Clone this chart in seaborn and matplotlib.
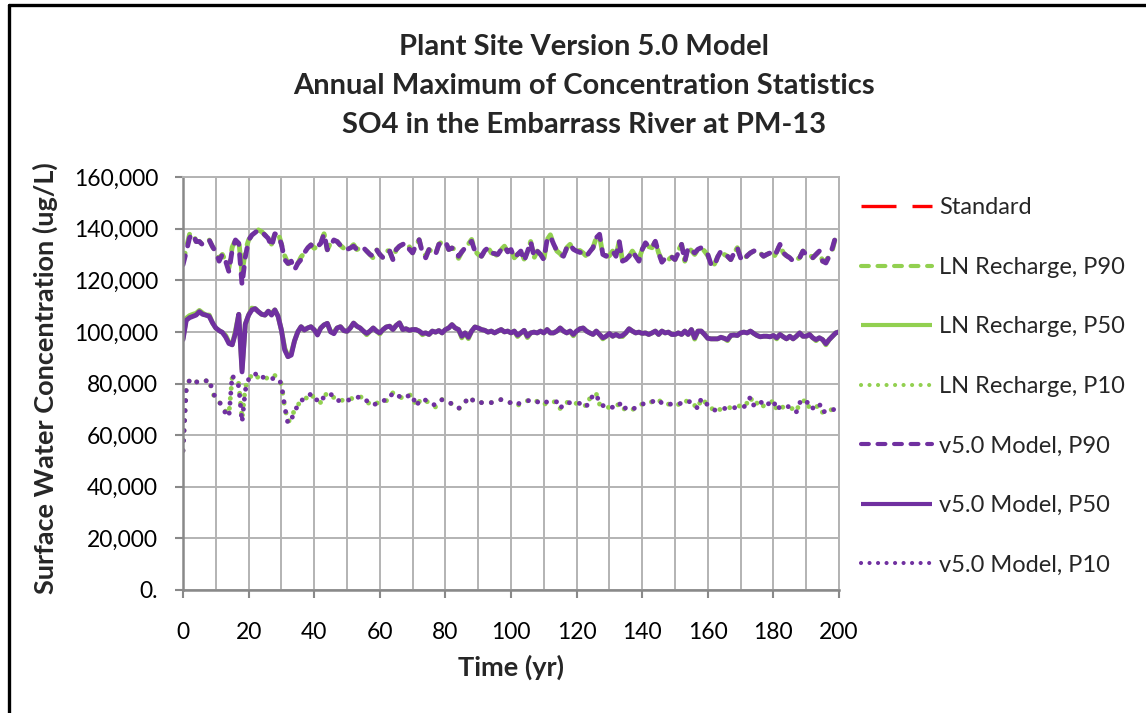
import numpy as np
import pandas as pd
import matplotlib
matplotlib.use("Agg")
import matplotlib.pyplot as plt
import seaborn as sns
from matplotlib.lines import Line2D
from matplotlib.ticker import FixedLocator, MultipleLocator

# ---------------- data ----------------
years = list(range(0, 201))

standard = [250000] * 201  # standard lies above the plotted range

v5_p90 = [
    126000, 131000, 136500, 138000, 135000, 135000, 133700, 134500, 135600, 133000,
    131000, 127400, 130000, 127400, 123300, 131800, 135600, 134300, 118200, 129000,
    135600, 137500, 138500, 139500, 138800, 137500, 136200, 133000, 138000, 137500,
    134000, 128000, 126500, 127400, 124000, 126500, 128000, 130600, 132500, 133700,
    132400, 133000, 134300, 138000, 131800, 133500, 135600, 135000, 133500, 132400,
    131900, 132500, 133200, 131900, 132500, 132600, 131300, 130000, 129300, 131900,
    130000, 128700, 130600, 131300, 128000, 131900, 133200, 133900, 134500, 132000,
    130600, 133500, 135700, 130600, 128700, 131900, 131000, 130000, 133900, 134500,
    135100, 131900, 132500, 131900, 129300, 131000, 132600, 134000, 135100, 131300,
    130000, 129300, 131500, 132600, 130600, 130300, 130000, 131900, 133200, 131000,
    131900, 128700, 130000, 131300, 127400, 131000, 135000, 129300, 131300, 130000,
    128000, 135700, 137000, 134000, 131300, 130300, 129300, 132600, 133900, 132000,
    131300, 130800, 130600, 129300, 131000, 132600, 136500, 137800, 130000, 129300,
    130300, 131300, 129300, 135100, 127400, 128000, 129300, 131300, 129300, 127400,
    131900, 134500, 133000, 132600, 135100, 130600, 127000, 128500, 128000, 129000,
    128000, 130600, 133900, 127400, 132600, 131500, 130600, 132000, 132600, 131300,
    130000, 126100, 125500, 129000, 131300, 130000, 129300, 128000, 130500, 132600,
    128700, 127400, 129500, 130600, 131300, 131900, 130500, 129300, 130000, 130600,
    129300, 131000, 133900, 130600, 129500, 128700, 127400, 128000, 128700, 131300,
    130000, 130000, 128700, 130000, 131300, 127400, 126700, 129300, 132600, 137000,
    137500]

v5_p50 = [
    97000, 104500, 105500, 106000, 106500, 107800, 106800, 106500, 106000, 103500,
    101500, 100500, 99800, 98000, 95500, 95000, 99500, 106800, 84500, 103000,
    106500, 108500, 109000, 107800, 106800, 106500, 108000, 106500, 108500, 106000,
    100700, 93000, 90400, 91000, 96500, 100000, 102000, 100700, 101500, 102000,
    100800, 98800, 101500, 102700, 103300, 100000, 99300, 101500, 102000, 100500,
    100200, 101500, 103400, 102200, 101500, 100300, 99400, 100300, 101500, 100300,
    99600, 100900, 101900, 102200, 100900, 102500, 103500, 100900, 101200, 100600,
    100900, 100900, 100300, 99400, 99600, 99000, 100300, 99900, 100500, 99600,
    100900, 101500, 102800, 101500, 100900, 98300, 99600, 97900, 100300, 101900,
    101500, 100900, 100600, 99900, 100300, 99600, 100300, 100900, 100000, 100300,
    99600, 100300, 98700, 99600, 100600, 98300, 99600, 99900, 99600, 100300,
    99600, 100900, 99600, 99600, 100300, 101500, 100300, 99600, 100300, 99000,
    100300, 101200, 101500, 100300, 99600, 99000, 100300, 99000, 97700, 98300,
    99400, 98300, 99000, 98300, 98600, 99600, 101200, 100300, 99600, 99900,
    99400, 99600, 99000, 99600, 100300, 99000, 100300, 99600, 99900, 99000,
    99000, 99600, 99000, 100300, 99000, 100900, 97700, 100300, 100300, 99000,
    97500, 97300, 97300, 97300, 97900, 97500, 97000, 98600, 98800, 98600,
    99600, 99900, 99600, 100300, 99400, 98600, 98100, 98300, 98300, 98100,
    98600, 97700, 99000, 98100, 97300, 98300, 97300, 98300, 99600, 98300,
    98300, 99000, 97700, 97000, 97700, 97000, 95400, 97000, 98300, 99600,
    100000]

v5_p10 = [
    54000, 77900, 81300, 80000, 80600, 80600, 81300, 81000, 81600, 77000,
    74200, 73000, 71000, 68400, 67100, 83200, 81000, 79000, 65000, 77400,
    81600, 82500, 83900, 82000, 82500, 82300, 81900, 81700, 82300, 82000,
    79800, 71000, 64500, 66000, 69000, 71600, 73300, 74200, 74500, 76100,
    74200, 73500, 72600, 75000, 75500, 76000, 74500, 73300, 73500, 73500,
    73500, 73700, 74000, 74600, 74800, 74600, 73300, 72500, 71600, 72300,
    73000, 73500, 73300, 74600, 76400, 75300, 75000, 74200, 74600, 75500,
    75500, 71200, 73000, 74200, 73500, 72300, 72000, 71600, 72300, 73800,
    73500, 72900, 72000, 71000, 70300, 71500, 72600, 74800, 74000, 72600,
    72600, 72600, 72500, 72300, 72600, 72900, 73200, 73800, 73000, 72600,
    72600, 71600, 72000, 72600, 73000, 73300, 73500, 73800, 73000, 72000,
    72500, 72900, 72800, 72900, 72900, 70300, 72000, 72800, 72500, 72300,
    72300, 72300, 72300, 71000, 74200, 75000, 76000, 72000, 71500, 70600,
    70800, 70800, 71500, 72600, 69700, 70600, 70500, 69800, 70800, 71600,
    72000, 72300, 72600, 72900, 73500, 73800, 72300, 72500, 72000, 72000,
    71900, 71900, 72500, 73300, 73000, 72900, 71500, 70300, 74200, 73000,
    71600, 70800, 69700, 69800, 70000, 70300, 70500, 70700, 70600, 70800,
    70900, 70900, 72500, 74800, 71600, 72400, 73300, 71200, 72000, 72300,
    73500, 69700, 71000, 71600, 71200, 70900, 70000, 69000, 72600, 73000,
    73800, 70300, 70500, 70900, 72300, 68700, 69500, 70000, 69700, 70300,
    70600]

ln_p90 = [
    127000, 132500, 137800, 138500, 135000, 135000, 133700, 134500, 135600, 133000,
    131000, 128500, 130000, 127400, 124800, 132800, 135600, 135500, 122500, 131500,
    135600, 137500, 139000, 139500, 138800, 137500, 136200, 134000, 138000, 138500,
    134000, 129500, 126500, 126000, 125500, 126500, 129000, 130600, 132500, 133700,
    132400, 133000, 134300, 138000, 131800, 134500, 135600, 135000, 133500, 132400,
    131900, 132500, 133800, 131900, 132500, 132600, 131300, 130000, 128600, 131900,
    130000, 128700, 131500, 131300, 128000, 131900, 133200, 133900, 134500, 133000,
    130600, 133500, 135700, 130600, 129500, 131900, 131000, 130000, 133900, 135000,
    135100, 131900, 132500, 131900, 128500, 131000, 132600, 134000, 135800, 131300,
    130000, 129300, 131500, 132600, 130600, 130300, 129300, 131900, 133200, 131000,
    131900, 128700, 130000, 131300, 128200, 131000, 135000, 128600, 131300, 130000,
    128000, 135700, 137600, 134000, 131300, 130300, 128700, 132600, 133900, 132000,
    131300, 131500, 130600, 129300, 131000, 132600, 136500, 137000, 130000, 129300,
    129500, 131300, 129300, 135100, 127400, 128000, 129300, 131300, 129300, 128200,
    131900, 134500, 133000, 132600, 135100, 130600, 127800, 128500, 128000, 129000,
    128000, 131500, 133900, 127400, 132600, 131500, 130000, 132000, 132600, 131300,
    129500, 126100, 126200, 129000, 131300, 130000, 129300, 128000, 130500, 132600,
    128700, 128300, 129500, 130600, 131300, 131900, 130500, 129300, 130000, 130600,
    128600, 131000, 133900, 130600, 129500, 128700, 128300, 128000, 128700, 131300,
    130000, 130000, 128700, 130000, 131300, 127400, 127500, 129300, 131800, 137000,
    137500]

ln_p50 = [
    97500, 105300, 106300, 106800, 107200, 108300, 107300, 106500, 106500, 103500,
    101500, 100500, 99800, 98600, 96000, 95000, 100400, 106800, 85500, 103000,
    106500, 109200, 109000, 107800, 106800, 106500, 108000, 107200, 108500, 106000,
    100700, 93800, 90400, 91800, 96500, 100000, 102000, 100700, 101500, 102000,
    100800, 99400, 101500, 102700, 103300, 100000, 100000, 101500, 102000, 100500,
    100200, 101500, 103400, 102200, 101500, 100300, 98900, 100300, 101500, 100300,
    99200, 100900, 101900, 102200, 100900, 102500, 103500, 100900, 101200, 100600,
    100900, 100900, 100300, 98900, 99600, 99000, 100300, 99900, 100500, 99600,
    100900, 101500, 102800, 101500, 100900, 97700, 99600, 97400, 100300, 101900,
    101500, 100900, 100600, 99900, 100300, 99600, 100300, 100900, 100000, 100300,
    99600, 100300, 98200, 99600, 100600, 97800, 99600, 99900, 99600, 100300,
    99600, 100900, 99600, 99600, 100300, 101500, 100300, 99600, 100300, 98500,
    100300, 101200, 101500, 100300, 99600, 99000, 100300, 99000, 97300, 98300,
    99400, 98300, 99000, 98300, 98200, 99600, 101200, 100300, 99600, 99900,
    99400, 99600, 99000, 99600, 100300, 99000, 100300, 99600, 99900, 99000,
    99000, 99600, 99000, 100300, 99000, 100900, 97200, 100300, 100300, 99000,
    97500, 97300, 97300, 97300, 97900, 97500, 96600, 98600, 98800, 98600,
    99600, 99900, 99600, 100300, 99400, 98600, 98100, 98300, 98300, 98100,
    98600, 97300, 99000, 98100, 97300, 98300, 97300, 98300, 99600, 98300,
    98300, 99000, 97700, 96600, 97700, 97000, 95000, 97000, 98300, 99600,
    100000]

ln_p10 = [
    54000, 78800, 81300, 80000, 80600, 80600, 81300, 81000, 81600, 76200,
    74200, 73000, 71000, 69200, 68200, 82400, 81000, 80000, 66200, 78600,
    81600, 83300, 83900, 82000, 82500, 82300, 81900, 81700, 83100, 82000,
    79800, 71000, 65300, 66000, 70000, 71600, 73300, 74200, 74500, 76100,
    74200, 73500, 72600, 75000, 76300, 76000, 74500, 73300, 73500, 73500,
    73500, 73700, 74800, 74600, 74800, 74600, 73300, 71800, 71600, 72300,
    73000, 73500, 73300, 75200, 76400, 75300, 75000, 74200, 74600, 75500,
    75500, 71200, 73000, 74200, 73500, 72300, 72000, 70900, 72300, 73800,
    73500, 72900, 72000, 71000, 70300, 70800, 72600, 74800, 74000, 72600,
    72600, 72600, 72500, 72300, 72600, 72900, 73200, 73800, 73000, 72600,
    72600, 71600, 71300, 72600, 73000, 73300, 73500, 73800, 73000, 72000,
    71600, 72900, 72800, 72900, 72900, 70300, 72000, 72800, 71800, 72300,
    72300, 72300, 72300, 71000, 74200, 74300, 76000, 72000, 71500, 70600,
    70800, 70800, 71500, 71900, 69700, 70600, 70500, 69800, 70800, 71600,
    72000, 72300, 72600, 72900, 72800, 73800, 72300, 72500, 72000, 72000,
    71900, 71900, 71700, 73300, 73000, 72900, 71500, 70300, 74200, 73000,
    71600, 70800, 69000, 69800, 70000, 70300, 70500, 70700, 70600, 70800,
    71600, 70900, 72500, 74800, 71600, 72400, 73300, 71200, 72000, 72300,
    73500, 69700, 71000, 70800, 71200, 70900, 70000, 69000, 72600, 73000,
    73800, 70300, 70500, 70900, 71500, 68700, 69500, 70000, 69700, 69600,
    70600]

labels = ["Standard", "LN Recharge, P90", "LN Recharge, P50", "LN Recharge, P10",
          "v5.0 Model, P90", "v5.0 Model, P50", "v5.0 Model, P10"]
y_ticks = [0, 20000, 40000, 60000, 80000, 100000, 120000, 140000, 160000]
y_tick_labels = ["0.", "20,000", "40,000", "60,000", "80,000", "100,000",
                 "120,000", "140,000", "160,000"]
x_ticks = [0, 20, 40, 60, 80, 100, 120, 140, 160, 180, 200]

# ---------------- style ----------------
sns.set_theme(style="white")
plt.rcParams['font.family'] = ['Lato', 'DejaVu Sans']

PURPLE = "#7030A0"
GREEN = "#92D050"
RED = "#FF0000"
GRID = "#B3B3B3"
AXIS = "#898989"
LW = 3.5
DASH = (0, (1.9, 2.1))
DOT = (0, (0.01, 2.05))
LONGDASH = (0, (10.5, 4.8))

fig = plt.figure(figsize=(11.46, 7.13), dpi=100)
ax = fig.add_axes([183/1146, 1-590/713, (839-183)/1146, (590-177)/713])

series = [
    (standard, RED, LONGDASH, 2.4),
    (ln_p90, GREEN, DASH, LW),
    (ln_p50, GREEN, "-", LW),
    (ln_p10, GREEN, DOT, LW),
    (v5_p90, PURPLE, DASH, LW),
    (v5_p50, PURPLE, "-", LW),
    (v5_p10, PURPLE, DOT, LW),
]

handles = []
for (vals, col, ls, lw), lab in zip(series, labels):
    df = pd.DataFrame({"Time": years, "Conc": vals})
    sns.lineplot(data=df, x="Time", y="Conc", ax=ax, color=col, linewidth=lw,
                 linestyle=ls, dash_capstyle="butt" if col == RED else "round",
                 solid_capstyle="round", solid_joinstyle="round",
                 estimator=None, sort=False, legend=False)
    hl = lw if col == RED else lw * 0.85
    handles.append(Line2D([0], [0], color=col, linewidth=hl, linestyle=ls,
                          dash_capstyle="butt" if col == RED else "round",
                          solid_capstyle="butt"))

ax.set_xlim(0, 200)
ax.set_ylim(0, 160000)
ax.xaxis.set_major_locator(FixedLocator(x_ticks))
ax.xaxis.set_minor_locator(MultipleLocator(10))
ax.set_xticklabels([str(t) for t in x_ticks])
ax.yaxis.set_major_locator(FixedLocator(y_ticks))
ax.set_yticklabels(y_tick_labels)

ax.grid(True, which="major", axis="y", color=GRID, linewidth=1.4)
ax.grid(True, which="both", axis="x", color=GRID, linewidth=1.4)
ax.set_axisbelow(True)

for s in ["left", "bottom"]:
    ax.spines[s].set_color(AXIS)
    ax.spines[s].set_linewidth(1.8)
for s in ["top", "right"]:
    ax.spines[s].set_color(GRID)
    ax.spines[s].set_linewidth(1.4)

ax.tick_params(axis="both", which="major", direction="out", length=6,
               width=1.5, color=AXIS, labelsize=16.5, labelcolor="black")
ax.tick_params(axis="x", which="major", pad=17)
ax.tick_params(axis="y", which="major", pad=12)
ax.tick_params(axis="x", which="minor", length=0)
ax.tick_params(bottom=True, left=True)

ax.set_xlabel("Time (yr)", fontsize=19.5, fontweight="bold")
ax.set_ylabel("Surface Water Concentration (ug/L)", fontsize=19.5, fontweight="bold")
ax.xaxis.set_label_coords((511-183)/656, (590-655)/413)
ax.yaxis.set_label_coords((58-183)/656, (590-378)/413)

title_lines = ["Plant Site Version 5.0 Model",
               "Annual Maximum of Concentration Statistics",
               "SO4 in the Embarrass River at PM-13"]
for i, t in enumerate(title_lines):
    fig.text(584/1146, 1-(47+39*i)/713, t, ha="center", va="center",
             fontsize=21, fontweight="bold")

fig.legend(handles, labels, loc="upper left",
           bbox_to_anchor=(852/1146, 1-188/713), frameon=False,
           fontsize=17, handlelength=3.0, handletextpad=0.3,
           labelspacing=1.63, borderaxespad=0)

# outer frame
fig.add_artist(Line2D([9/1146, 9/1146], [0, 1-5/713], color="black", lw=2.4,
                      transform=fig.transFigure))
fig.add_artist(Line2D([9/1146, 1], [1-5/713, 1-5/713], color="black", lw=2.4,
                      transform=fig.transFigure))

fig.savefig("out.png", dpi=100, facecolor="white")
